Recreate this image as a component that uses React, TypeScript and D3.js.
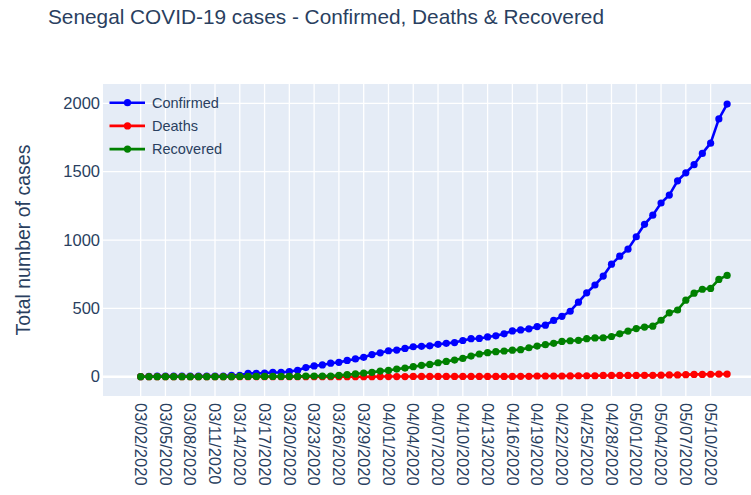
import React from "react";
import * as d3 from "d3";

const dates = [
  "03/02/2020","03/03/2020","03/04/2020","03/05/2020","03/06/2020","03/07/2020","03/08/2020","03/09/2020","03/10/2020","03/11/2020",
  "03/12/2020","03/13/2020","03/14/2020","03/15/2020","03/16/2020","03/17/2020","03/18/2020","03/19/2020","03/20/2020","03/21/2020",
  "03/22/2020","03/23/2020","03/24/2020","03/25/2020","03/26/2020","03/27/2020","03/28/2020","03/29/2020","03/30/2020","03/31/2020",
  "04/01/2020","04/02/2020","04/03/2020","04/04/2020","04/05/2020","04/06/2020","04/07/2020","04/08/2020","04/09/2020","04/10/2020",
  "04/11/2020","04/12/2020","04/13/2020","04/14/2020","04/15/2020","04/16/2020","04/17/2020","04/18/2020","04/19/2020","04/20/2020",
  "04/21/2020","04/22/2020","04/23/2020","04/24/2020","04/25/2020","04/26/2020","04/27/2020","04/28/2020","04/29/2020","04/30/2020",
  "05/01/2020","05/02/2020","05/03/2020","05/04/2020","05/05/2020","05/06/2020","05/07/2020","05/08/2020","05/09/2020","05/10/2020",
  "05/11/2020","05/12/2020"
];

const confirmed = [
  1,2,4,4,4,4,4,4,4,4,
  4,10,10,24,24,26,31,31,38,47,
  67,79,86,99,105,119,130,142,162,175,
  190,195,207,219,222,226,237,244,250,265,
  278,280,291,299,314,335,342,350,367,377,
  412,442,479,545,614,671,736,823,882,933,
  1024,1115,1182,1271,1329,1433,1492,1551,1634,1709,
  1886,1995
];

const deaths = [
  0,0,0,0,0,0,0,0,0,0,
  0,0,0,0,0,0,0,0,0,0,
  0,0,0,0,0,0,0,0,0,1,
  1,1,1,2,2,2,2,2,2,2,
  2,2,2,2,2,2,3,3,5,5,
  5,5,6,7,7,7,9,9,9,9,
  9,10,10,11,13,13,15,17,17,18,
  19,19
];

const recovered = [
  0,0,0,0,0,0,0,0,0,0,
  0,0,2,2,2,2,2,2,2,2,
  5,5,5,5,10,15,20,27,32,41,
  46,56,63,73,83,90,102,112,122,134,
  151,166,176,183,188,194,198,212,224,234,
  244,258,263,266,278,284,285,294,314,334,
  352,363,370,413,467,488,560,611,640,646,
  712,741
];

const tickLabels = [
  "03/02/2020","03/05/2020","03/08/2020","03/11/2020","03/14/2020","03/17/2020","03/20/2020","03/23/2020","03/26/2020","03/29/2020",
  "04/01/2020","04/04/2020","04/07/2020","04/10/2020","04/13/2020","04/16/2020","04/19/2020","04/22/2020","04/25/2020","04/28/2020",
  "05/01/2020","05/04/2020","05/07/2020","05/10/2020"
];

const yTicks = [0, 500, 1000, 1500, 2000];

const seriesList = [
  { name: "Confirmed", values: confirmed, color: "#0000ff" },
  { name: "Deaths", values: deaths, color: "#ff0000" },
  { name: "Recovered", values: recovered, color: "#008000" },
];

const W = 751;
const H = 495;
const plotLeft = 103;
const plotRight = 751;
const plotTop = 84;
const plotBottom = 396;
const font = "'Liberation Sans', Arial, sans-serif";
const textColor = "#2a3f5f";

export default function App() {
  const x = d3.scaleLinear().domain([-4.56, 73.89]).range([plotLeft, plotRight]);
  const y = d3.scaleLinear().domain([-141.2, 2141.6]).range([plotBottom, plotTop]);
  const line = d3
    .line<number>()
    .x((_, i) => x(i))
    .y((v) => y(v));

  return (
    <svg
      width={W}
      height={H}
      style={{ position: "absolute", left: 0, top: 0, background: "#fff" }}
      fontFamily={font}
    >
      <rect x={plotLeft} y={plotTop} width={plotRight - plotLeft} height={plotBottom - plotTop} fill="#e5ecf6" />
      {tickLabels.map((t) => {
        const i = dates.indexOf(t);
        return (
          <line key={"gx" + t} x1={x(i)} x2={x(i)} y1={plotTop} y2={plotBottom} stroke="#ffffff" strokeWidth={1.3} />
        );
      })}
      {yTicks.map((v) => (
        <line
          key={"gy" + v}
          x1={plotLeft}
          x2={plotRight}
          y1={y(v)}
          y2={y(v)}
          stroke="#ffffff"
          strokeWidth={v === 0 ? 2.6 : 1.3}
        />
      ))}
      {seriesList.map((s) => (
        <g key={s.name}>
          <path d={line(s.values) || ""} fill="none" stroke={s.color} strokeWidth={2.6} />
          {s.values.map((v, i) => (
            <circle key={i} cx={x(i)} cy={y(v)} r={3.6} fill={s.color} />
          ))}
        </g>
      ))}
      {yTicks.map((v) => (
        <text
          key={"ty" + v}
          x={100}
          y={y(v)}
          dy="0.35em"
          textAnchor="end"
          fontSize={16.5}
          fill={textColor}
        >
          {v}
        </text>
      ))}
      {tickLabels.map((t) => {
        const i = dates.indexOf(t);
        return (
          <text
            key={"tx" + t}
            transform={`translate(${x(i)},${plotBottom + 7}) rotate(90)`}
            dy="0.35em"
            textAnchor="start"
            fontSize={16.5}
            fill={textColor}
          >
            {t}
          </text>
        );
      })}
      <text
        transform={`translate(23.5,${(plotTop + plotBottom) / 2}) rotate(-90)`}
        dy="0.35em"
        textAnchor="middle"
        fontSize={19.5}
        fill={textColor}
      >
        Total number of cases
      </text>
      <text x={48} y={24} fontSize={20.8} fill={textColor}>
        Senegal COVID-19 cases - Confirmed, Deaths &amp; Recovered
      </text>
      {seriesList.map((s, k) => {
        const cy = 102.7 + k * 23.2;
        return (
          <g key={"lg" + s.name}>
            <line x1={109.5} x2={145} y1={cy} y2={cy} stroke={s.color} strokeWidth={2.6} />
            <circle cx={127.5} cy={cy} r={3.6} fill={s.color} />
            <text x={152} y={cy} dy="0.35em" fontSize={14.5} fill={textColor}>
              {s.name}
            </text>
          </g>
        );
      })}
    </svg>
  );
}
